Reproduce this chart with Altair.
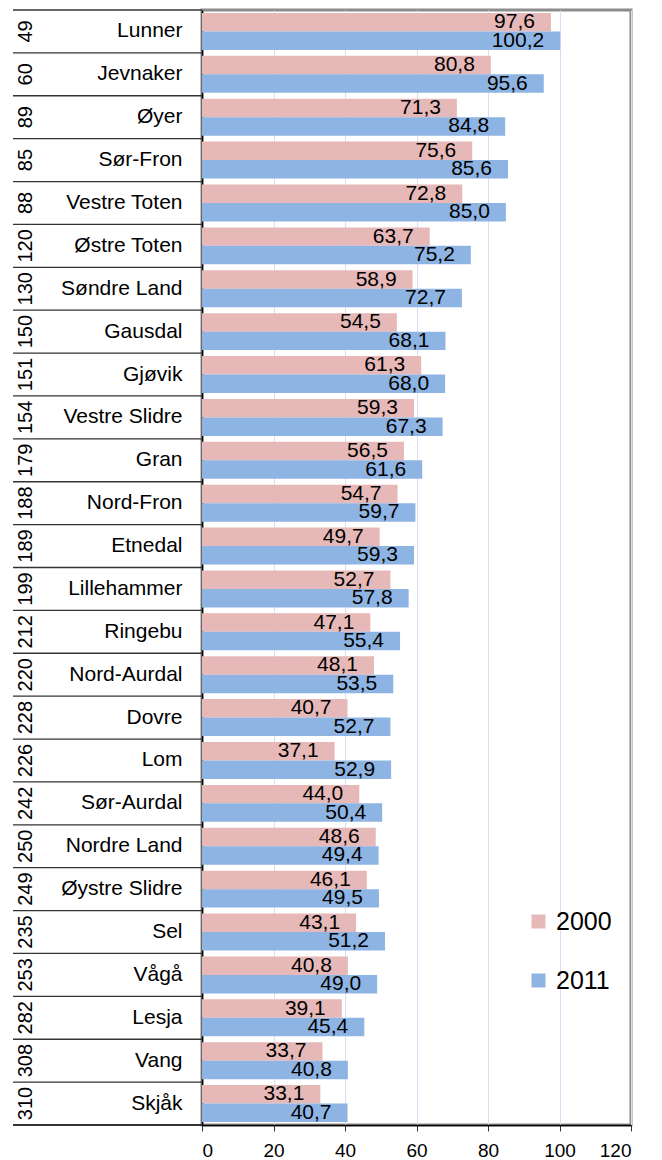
import altair as alt
import pandas as pd

ranks = ["49", "60", "89", "85", "88", "120", "130", "150", "151", "154", "179", "188", "189",
         "199", "212", "220", "228", "226", "242", "250", "249", "235", "253", "282", "308", "310"]
names = ["Lunner", "Jevnaker", "Øyer", "Sør-Fron", "Vestre Toten", "Østre Toten", "Søndre Land",
         "Gausdal", "Gjøvik", "Vestre Slidre", "Gran", "Nord-Fron", "Etnedal", "Lillehammer",
         "Ringebu", "Nord-Aurdal", "Dovre", "Lom", "Sør-Aurdal", "Nordre Land", "Øystre Slidre",
         "Sel", "Vågå", "Lesja", "Vang", "Skjåk"]
v2000 = [97.6, 80.8, 71.3, 75.6, 72.8, 63.7, 58.9, 54.5, 61.3, 59.3, 56.5, 54.7, 49.7,
         52.7, 47.1, 48.1, 40.7, 37.1, 44.0, 48.6, 46.1, 43.1, 40.8, 39.1, 33.7, 33.1]
v2011 = [100.2, 95.6, 84.8, 85.6, 85.0, 75.2, 72.7, 68.1, 68.0, 67.3, 61.6, 59.7, 59.3,
         57.8, 55.4, 53.5, 52.7, 52.9, 50.4, 49.4, 49.5, 51.2, 49.0, 45.4, 40.8, 40.7]
years = ["2000", "2011"]
x_ticks = [0, 20, 40, 60, 80, 100, 120]

rows = []
for n, a, b in zip(names, v2000, v2011):
    rows.append({"name": n, "year": years[0], "value": a})
    rows.append({"name": n, "year": years[1], "value": b})
df = pd.DataFrame(rows)
df["label"] = df["value"].map(lambda v: f"{v:.1f}".replace(".", ","))

cats = pd.DataFrame({"name": names, "rank": ranks})

W, H = 429, 1115
FONT = "Liberation Sans"

yscale = alt.Scale(domain=names, paddingInner=0, paddingOuter=0)
yoff = alt.YOffset("year:N", scale=alt.Scale(domain=years, paddingInner=0, paddingOuter=0.16))

bars = alt.Chart(df).mark_bar().encode(
    x=alt.X("value:Q", scale=alt.Scale(domain=[0, 120]),
            axis=alt.Axis(values=x_ticks, title=None, grid=True, gridColor="#dcdcf5",
                          gridWidth=1, domainColor="#000", domainWidth=1.5,
                          tickColor="#333", tickSize=6, labelFontSize=19,
                          labelPadding=10, labelColor="#000", labelFont=FONT)),
    y=alt.Y("name:N", scale=yscale, sort=names,
            axis=alt.Axis(title=None, ticks=False, labelFontSize=21, labelPadding=20,
                          labelColor="#000", domainColor="#000", domainWidth=1.5,
                          grid=False, labelFont=FONT)),
    yOffset=yoff,
    color=alt.Color("year:N", scale=alt.Scale(domain=years, range=["#e6b9b8", "#8eb4e3"]),
                    legend=alt.Legend(title=None, orient="none", legendX=324, legendY=899,
                                      symbolType="square", symbolSize=196,
                                      symbolStrokeWidth=0, labelFontSize=25,
                                      labelFont=FONT, labelColor="#000",
                                      rowPadding=33, labelOffset=5, padding=0)),
)

labels = alt.Chart(df).mark_text(align="right", baseline="middle", dx=-16, fontSize=21,
                                 font=FONT, color="#000").encode(
    x=alt.X("value:Q"),
    y=alt.Y("name:N", scale=yscale, sort=names),
    yOffset=yoff,
    text="label:N",
)

seps = alt.Chart(cats).mark_rule(color="#333", strokeWidth=1.3).encode(
    y=alt.Y("name:N", scale=yscale, sort=names, bandPosition=0),
    x=alt.value(-189),
    x2=alt.value(0),
)

bottom_sep = alt.Chart(cats).mark_rule(color="#333", strokeWidth=1.3).encode(
    y=alt.value(H), x=alt.value(-189), x2=alt.value(0),
)

rank_text = alt.Chart(cats).mark_text(angle=270, align="center", baseline="middle",
                                      fontSize=20, font=FONT, color="#000").encode(
    y=alt.Y("name:N", scale=yscale, sort=names),
    x=alt.value(-176),
    text="rank:N",
)

chart = alt.layer(bars, labels, seps, bottom_sep, rank_text).properties(
    width=W, height=H,
    autosize=alt.AutoSizeParams(type="none"),
    padding={"left": 194, "top": 2, "right": 22, "bottom": 36},
).configure(font=FONT).configure_view(stroke="#8c8c8c", strokeWidth=3)

chart.save("out.html", embed_options={"renderer": "svg", "actions": False})
